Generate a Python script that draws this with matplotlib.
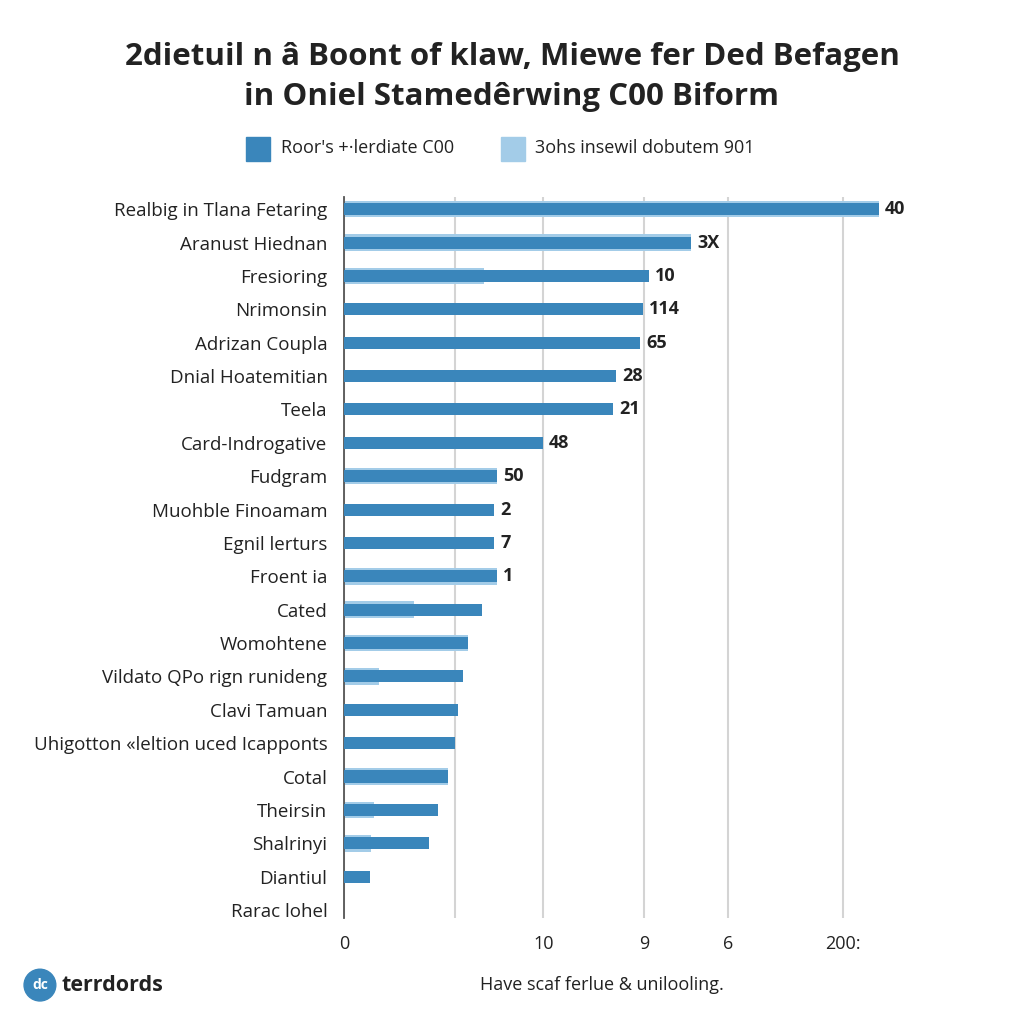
import matplotlib.pyplot as plt
import matplotlib.patches as mpatches
import numpy as np

categories = ["Realbig in Tlana Fetaring", "Aranust Hiednan", "Fresioring", "Nrimonsin",
              "Adrizan Coupla", "Dnial Hoatemitian", "Teela", "Card-Indrogative", "Fudgram",
              "Muohble Finoamam", "Egnil lerturs", "Froent ia", "Cated", "Womohtene",
              "Vildato QPo rign runideng", "Clavi Tamuan", "Uhigotton \u00ableltion uced Icapponts",
              "Cotal", "Theirsin", "Shalrinyi", "Diantiul", "Rarac lohel"]
dark_vals = [107.2, 69.5, 61.1, 59.9, 59.3, 54.5, 53.9, 39.9, 30.6, 30.1, 30.1, 30.6,
             27.7, 24.9, 23.8, 22.9, 22.2, 20.8, 18.8, 17.0, 5.2, 0]
light_vals = [107.2, 69.5, 28.0, 0, 0, 0, 0, 0, 30.6, 0, 0, 30.6,
              14.0, 24.9, 7.0, 0, 0, 20.8, 6.0, 5.4, 0, 0]
value_labels = ["40", "3X", "10", "114", "65", "28", "21", "48", "50", "2", "7", "1"]
tick_pos = [0, 22.2, 39.9, 60.1, 77.0, 100]
tick_labels = ["0", "", "10", "9", "6", "200:"]
legend_names = ["Roor's +\u00b7lerdiate C00", "3ohs insewil dobutem 901"]

dark = "#3a86bb"
light = "#a3cce8"
font = "Open Sans"

fig = plt.figure(figsize=(10.24, 10.24), dpi=100)
ax = fig.add_axes([0.336, 0.1035, 0.543, 0.704])

y = np.arange(len(categories))
ax.barh(y, light_vals, height=0.5, color=light, zorder=2)
ax.barh(y, dark_vals, height=0.36, color=dark, zorder=3)

for i, lab in enumerate(value_labels):
    ax.text(max(dark_vals[i], light_vals[i]) + 1.2, i, lab, va="center", ha="left",
            fontsize=13, fontweight="bold", color="#222222", family=font)

ax.set_xlim(0, 111.4)
ax.set_ylim(21.24, -0.36)
ax.set_yticks(y)
ax.set_yticklabels(categories, fontsize=13.5, color="#222222", family=font)
ax.set_xticks(tick_pos)
ax.set_xticklabels(tick_labels, fontsize=13, color="#222222", family=font)
ax.tick_params(axis="both", length=0)
ax.tick_params(axis="y", pad=12)
ax.tick_params(axis="x", pad=12)
ax.grid(axis="x", color="#d4d4d4", linewidth=1.5, zorder=0)
for s in ["top", "right", "bottom"]:
    ax.spines[s].set_visible(False)
ax.spines["left"].set_color("#555555")
ax.spines["left"].set_linewidth(1.3)

fig.text(0.5, 0.944, "2dietuil n \u00e2 Boont of klaw, Miewe fer Ded Befagen", ha="center",
         va="center", fontsize=22.5, fontweight="bold", color="#222222", family=font)
fig.text(0.5, 0.905, "in Oniel Stamed\u00earwing C00 Biform", ha="center", va="center",
         fontsize=22.5, fontweight="bold", color="#222222", family=font)

# legend
fig.patches.append(mpatches.Rectangle((0.240, 0.843), 0.024, 0.023, color=dark,
                                      transform=fig.transFigure))
fig.text(0.274, 0.855, legend_names[0], ha="left", va="center", fontsize=13,
         color="#222222", family=font)
fig.patches.append(mpatches.Rectangle((0.489, 0.843), 0.024, 0.023, color=light,
                                      transform=fig.transFigure))
fig.text(0.522, 0.855, legend_names[1], ha="left", va="center", fontsize=13,
         color="#222222", family=font)

# footer
fig.patches.append(mpatches.Circle((0.039, 0.038), 0.0155, color="#3a86bb",
                                   transform=fig.transFigure))
fig.text(0.039, 0.038, "dc", ha="center", va="center", fontsize=10, fontweight="bold",
         color="white", family=font)
fig.text(0.060, 0.038, "terrdords", ha="left", va="center", fontsize=15.5,
         fontweight="bold", color="#222222", family=font)
fig.text(0.588, 0.038, "Have scaf ferlue & unilooling.", ha="center", va="center",
         fontsize=13, color="#222222", family=font)

fig.savefig("out.png", dpi=100, facecolor="white")
